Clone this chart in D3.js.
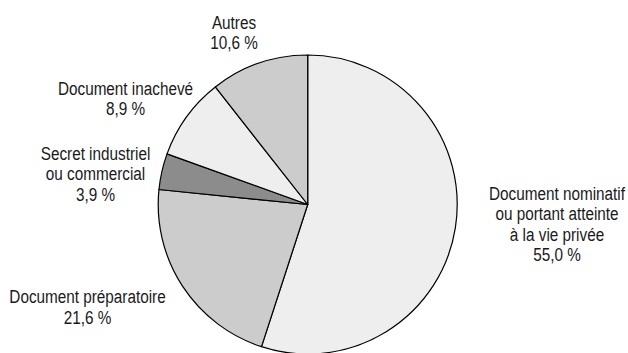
<!DOCTYPE html>
<html>
<head>
<meta charset="utf-8">
<script src="https://cdn.jsdelivr.net/npm/d3@7"></script>
<style>
  html, body { margin: 0; padding: 0; background: #ffffff; }
  svg text { font-family: "Liberation Sans", Arial, sans-serif; font-size: 18px; fill: #1a1a1a; }
</style>
</head>
<body>
<svg id="chart" width="628" height="353"></svg>
<script>
// Motifs de refus, en pourcentage, dans l'ordre des aiguilles d'une montre depuis midi
const categories = [
  ["Document nominatif", "ou portant atteinte", "à la vie privée"],
  ["Document préparatoire"],
  ["Secret industriel", "ou commercial"],
  ["Document inachevé"],
  ["Autres"]
];
const values = [55.0, 21.6, 3.9, 8.9, 10.6];
const valueLabels = ["55,0 %", "21,6 %", "3,9 %", "8,9 %", "10,6 %"];
const fills = ["#eeeeee", "#cccccc", "#8c8c8c", "#eeeeee", "#cccccc"];

// Label blocks: centre x and baseline of the first line
const labelPos = [[557, 200], [87.5, 303.3], [95.5, 160], [125.5, 95], [234, 29]];

const svg = d3.select("#chart");
const cx = 307.7, cy = 204.5, r = 149.5;
const lineH = 20.4;

const pie = d3.pie().sort(null).value(d => d)(values);
const arc = d3.arc().innerRadius(0).outerRadius(r);

const g = svg.append("g").attr("transform", `translate(${cx},${cy})`);
g.selectAll("path")
  .data(pie)
  .join("path")
  .attr("d", arc)
  .attr("fill", (d, i) => fills[i])
  .attr("stroke", "#000")
  .attr("stroke-width", 1.2)
  .attr("stroke-linejoin", "round");

// Condensed lettering: compress the regular face horizontally
const probe = svg.append("text").text("Document nominatif");
const sx = 136 / probe.node().getComputedTextLength();
probe.remove();

const labels = svg.selectAll("text.lbl")
  .data(categories)
  .join("text")
  .attr("class", "lbl")
  .attr("text-anchor", "middle")
  .attr("transform", (d, i) => `translate(${labelPos[i][0]},0) scale(${sx},1)`);

labels.each(function(lines, i) {
  const t = d3.select(this);
  lines.concat([valueLabels[i]]).forEach((s, k) => {
    t.append("tspan")
      .attr("x", 0)
      .attr("y", labelPos[i][1] + k * lineH)
      .text(s);
  });
});
</script>
</body>
</html>
